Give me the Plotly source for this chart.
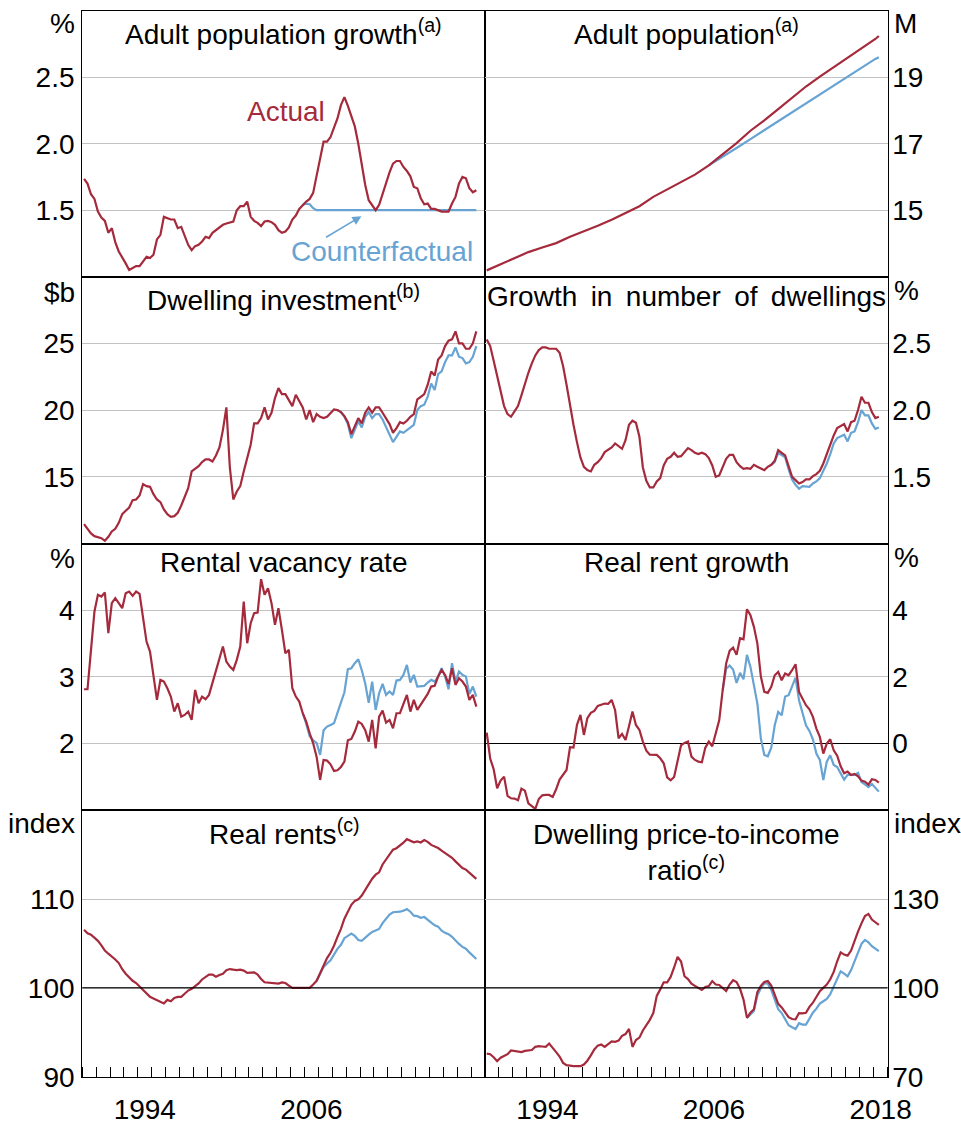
import plotly.graph_objects as go

W, H = 961, 1122
RED = "#a52a3c"
BLUE = "#67a3d3"
FONT = "Arial, 'Liberation Sans', sans-serif"

# quarterly time axis, 1990Q1 .. 2018Q2 (decimal years, mid-quarter)
quarters = [1990.125 + 0.25 * i for i in range(114)]

# ---------------- data ----------------
pop_growth = [
    1.735, 1.70, 1.62, 1.585, 1.49, 1.445, 1.42, 1.33, 1.365, 1.26,
    1.19, 1.15, 1.10, 1.05, 1.065, 1.08, 1.08, 1.115, 1.15, 1.14,
    1.165, 1.28, 1.315, 1.45, 1.44, 1.43, 1.43, 1.365, 1.375, 1.30,
    1.24, 1.20, 1.23, 1.24, 1.265, 1.30, 1.29, 1.33, 1.35, 1.365,
    1.39, 1.40, 1.41, 1.415, 1.50, 1.53, 1.53, 1.565, 1.45, 1.42,
    1.405, 1.38, 1.415, 1.42, 1.41, 1.39, 1.35, 1.33, 1.34, 1.37,
    1.43, 1.46, 1.51, 1.54, 1.565, 1.585, 1.63, 1.76, 1.88, 2.015,
    2.015, 2.05, 2.12, 2.19, 2.29, 2.35, 2.285, 2.215, 2.13, 2.00,
    1.85, 1.69, 1.575, 1.535, 1.50, 1.54, 1.625, 1.71, 1.785, 1.85,
    1.87, 1.87, 1.825, 1.795, 1.755, 1.675, 1.665, 1.59, 1.545, 1.55,
    1.51, 1.51, 1.50, 1.49, 1.49, 1.49, 1.55, 1.60, 1.70, 1.75,
    1.74, 1.665, 1.635, 1.65]
pop_growth_cf_start = 63
pop_growth_cf = [
    1.54, 1.55, 1.545, 1.515, 1.50, 1.50, 1.50, 1.50, 1.50, 1.50,
    1.50, 1.50, 1.50, 1.50, 1.50, 1.50, 1.50, 1.50, 1.50, 1.50,
    1.50, 1.50, 1.50, 1.50, 1.50, 1.50, 1.50, 1.50, 1.50, 1.50,
    1.50, 1.50, 1.50, 1.50, 1.50, 1.50, 1.50, 1.50, 1.50, 1.50,
    1.50, 1.50, 1.50, 1.50, 1.50, 1.50, 1.50, 1.50, 1.50, 1.50,
    1.50]

# adult population, read yearly (every 4th quarter) plus the last quarter
pop_idx = list(range(0, 113, 4)) + [113]
pop = [13.19, 13.38, 13.57, 13.74, 13.88, 14.01, 14.20, 14.36, 14.53, 14.71,
       14.91, 15.12, 15.40, 15.63, 15.84, 16.07, 16.35, 16.68, 17.02, 17.39,
       17.70, 18.04, 18.37, 18.72, 19.02, 19.30, 19.58, 19.86, 20.15, 20.24]
pop_cf_idx = list(range(64, 113, 4)) + [113]
pop_cf = [16.35, 16.60, 16.87, 17.14, 17.41, 17.67, 17.94, 18.21, 18.48,
          18.75, 19.02, 19.28, 19.55, 19.60]

dwell_inv = [
    11.45, 11.1, 10.75, 10.55, 10.5, 10.4, 10.2, 10.5, 10.9, 11.1,
    11.55, 12.2, 12.45, 12.7, 13.25, 13.3, 13.6, 14.45, 14.3, 14.25,
    13.7, 13.3, 13.1, 12.55, 12.2, 12.0, 12.05, 12.3, 12.85, 13.45,
    14.15, 15.4, 15.6, 15.8, 16.1, 16.3, 16.3, 16.15, 16.6, 17.2,
    18.5, 20.2, 15.7, 13.3, 13.9, 14.3, 15.4, 16.4, 17.4, 19.0,
    19.0, 19.4, 20.2, 19.3, 19.8, 20.9, 21.65, 21.2, 21.2, 20.75,
    20.3, 21.15, 20.7, 20.2, 19.3, 20.0, 19.1, 19.7, 19.5, 19.4,
    19.5, 19.8, 20.05, 20.0, 19.85, 19.55, 19.1, 18.2, 18.8, 19.4,
    19.0, 19.8, 20.2, 19.8, 20.2, 20.2, 19.8, 19.35, 18.95, 18.3,
    18.65, 19.1, 19.0, 19.2, 19.5, 19.7, 20.8, 21.0, 21.2, 21.9,
    22.9, 22.6, 23.8, 24.1, 24.8, 25.2, 25.3, 25.9, 25.0, 25.0,
    24.6, 24.6, 25.0, 25.9]
dwell_inv_cf_start = 73
dwell_inv_cf = [
    20.0, 19.85, 19.5, 18.95, 17.9, 18.5, 19.15, 18.7, 19.5, 19.85,
    19.4, 19.7, 19.7, 19.3, 18.75, 18.2, 17.6, 18.0, 18.4, 18.3,
    18.5, 18.65, 18.9, 20.0, 20.3, 20.4, 21.0, 22.0, 21.5, 22.7,
    22.9, 23.6, 24.1, 24.1, 24.7, 24.0, 23.9, 23.5, 23.6, 24.0,
    24.8]

dwell_growth = [
    2.53, 2.48, 2.37, 2.25, 2.14, 2.03, 1.97, 1.95, 1.99, 2.03,
    2.11, 2.20, 2.28, 2.35, 2.41, 2.45, 2.47, 2.47, 2.46, 2.46,
    2.46, 2.43, 2.33, 2.19, 2.03, 1.89, 1.76, 1.645, 1.575, 1.55,
    1.54, 1.59, 1.61, 1.64, 1.685, 1.70, 1.72, 1.75, 1.73, 1.71,
    1.775, 1.89, 1.92, 1.905, 1.80, 1.57, 1.47, 1.42, 1.42, 1.465,
    1.49, 1.585, 1.635, 1.65, 1.68, 1.65, 1.655, 1.685, 1.715, 1.70,
    1.68, 1.67, 1.68, 1.67, 1.64, 1.585, 1.50, 1.51, 1.58, 1.635,
    1.665, 1.665, 1.61, 1.58, 1.56, 1.565, 1.56, 1.59, 1.575, 1.56,
    1.55, 1.575, 1.59, 1.62, 1.70, 1.68, 1.66, 1.58, 1.50, 1.475,
    1.45, 1.46, 1.48, 1.48, 1.505, 1.52, 1.545, 1.60, 1.675, 1.745,
    1.81, 1.865, 1.88, 1.895, 1.84, 1.91, 1.92, 2.00, 2.10, 2.055,
    2.055, 1.985, 1.94, 1.95]
dwell_growth_cf_start = 82
dwell_growth_cf = [
    1.59, 1.61, 1.68, 1.665, 1.645, 1.555, 1.48, 1.44, 1.41, 1.43,
    1.43, 1.425, 1.45, 1.465, 1.49, 1.545, 1.60, 1.67, 1.75, 1.79,
    1.80, 1.815, 1.765, 1.83, 1.84, 1.91, 2.00, 1.96, 1.96, 1.90,
    1.86, 1.87]

vacancy = [
    2.815, 2.815, 3.40, 3.98, 4.23, 4.205, 4.265, 3.655, 4.105, 4.18,
    4.105, 4.03, 4.255, 4.28, 4.215, 4.28, 4.245, 3.905, 3.53, 3.38,
    3.005, 2.655, 2.955, 2.93, 2.83, 2.705, 2.48, 2.605, 2.405, 2.43,
    2.48, 2.355, 2.805, 2.605, 2.705, 2.665, 2.73, 2.905, 3.08, 3.28,
    3.455, 3.23, 3.155, 3.105, 3.255, 3.455, 4.13, 3.505, 3.805, 3.955,
    3.965, 4.465, 4.23, 4.33, 4.105, 3.78, 4.03, 3.705, 3.355, 3.405,
    2.83, 2.705, 2.63, 2.455, 2.33, 2.155, 2.005, 1.80, 1.455, 1.755,
    1.745, 1.69, 1.59, 1.60, 1.65, 1.73, 2.05, 2.07, 2.18, 2.33,
    2.295, 2.20, 2.03, 2.355, 1.93, 2.405, 2.495, 2.315, 2.355, 2.23,
    2.455, 2.455, 2.58, 2.73, 2.48, 2.655, 2.505, 2.58, 2.655, 2.745,
    2.855, 2.865, 3.005, 3.105, 3.03, 2.895, 3.13, 2.88, 2.98, 2.93,
    2.855, 2.655, 2.73, 2.555]
vacancy_cf_start = 63
vacancy_cf = [
    2.455, 2.30, 2.11, 2.05, 2.01, 1.83, 2.20, 2.255, 2.28, 2.305,
    2.46, 2.61, 2.77, 3.115, 3.13, 3.205, 3.265, 3.10, 2.90, 2.61,
    2.93, 2.505, 2.755, 2.895, 2.73, 2.78, 2.73, 2.945, 2.955, 3.03,
    3.18, 2.915, 3.03, 2.855, 2.855, 2.865, 2.915, 2.955, 2.93, 3.005,
    3.13, 3.005, 2.815, 3.205, 2.93, 3.08, 3.03, 3.005, 2.745, 2.855,
    2.705]

rent_growth = [
    0.33, -0.45, -0.77, -1.34, -1.11, -0.99, -1.57, -1.64, -1.65, -1.70,
    -1.35, -1.41, -1.79, -1.89, -1.96, -1.66, -1.55, -1.54, -1.54, -1.60,
    -1.37, -1.08, -0.94, -0.79, -0.11, -0.12, 0.56, 0.86, 0.26, 0.76,
    0.92, 0.98, 1.13, 1.17, 1.20, 1.19, 1.31, 1.00, 0.16, 0.29,
    0.11, 0.52, 0.96, 0.56, 0.41, 0.06, -0.21, -0.33, -0.34, -0.34,
    -0.44, -0.59, -1.01, -1.10, -1.00, -0.50, -0.05, 0.02, 0.06, -0.39,
    -0.49, -0.54, -0.56, -0.12, 0.06, -0.08, 0.35, 0.70, 1.60, 2.40,
    2.78, 2.88, 2.66, 3.16, 3.13, 4.03, 3.85, 3.50, 3.00, 2.01,
    1.55, 1.52, 1.70, 2.05, 2.15, 1.90, 2.10, 2.05, 2.20, 2.38,
    1.55, 1.35, 1.15, 1.03, 0.80, 0.45, 0.20, -0.30, 0.00, 0.13,
    -0.20, -0.36, -0.68, -0.89, -0.84, -0.94, -0.91, -0.98, -1.11, -1.14,
    -1.23, -1.07, -1.09, -1.17]
rent_growth_cf_start = 68
rent_growth_cf = [
    1.60, 2.25, 2.34, 2.22, 1.82, 2.12, 1.93, 2.66, 2.30, 1.80,
    1.20, 0.15, -0.34, -0.38, -0.12, 0.55, 0.95, 0.85, 1.41, 1.45,
    1.70, 1.98, 1.30, 0.90, 0.55, 0.38, 0.13, -0.30, -0.49, -1.09,
    -0.54, -0.35, -0.64, -0.70, -0.88, -1.08, -0.94, -0.94, -0.94, -0.88,
    -1.15, -1.22, -1.30, -1.21, -1.32, -1.44]

real_rents = [
    106.55, 106.15, 106.0, 105.7, 105.3, 104.8, 104.2, 103.85, 103.55, 103.2,
    102.8, 102.1, 101.6, 101.15, 100.8, 100.55, 100.15, 99.7, 99.3, 99.0,
    98.8, 98.6, 98.4, 98.25, 98.65, 98.5, 98.87, 98.98, 98.99, 99.4,
    99.7, 99.9, 100.2, 100.5, 100.95, 101.2, 101.5, 101.5, 101.25, 101.45,
    101.6, 102.0, 102.12, 102.05, 102.0, 102.05, 101.95, 101.69, 101.69, 101.75,
    101.5, 101.0, 100.64, 100.62, 100.56, 100.56, 100.49, 100.62, 100.55, 100.25,
    100.0, 100.0, 100.0, 99.98, 99.97, 100.0, 100.38, 100.8, 101.65, 102.6,
    103.35, 103.95, 104.75, 105.75, 106.65, 107.8, 108.6, 109.35, 109.8, 109.97,
    110.4, 111.05, 111.8, 112.3, 112.75, 113.02, 113.9, 114.45, 115.1, 115.57,
    115.73, 116.0, 116.35, 116.75, 116.58, 116.4, 116.5, 116.38, 116.65, 116.45,
    116.1, 115.9, 115.75, 115.45, 115.2, 114.88, 114.65, 114.25, 113.85, 113.5,
    113.32, 113.0, 112.6, 112.27]
real_rents_cf_start = 67
real_rents_cf = [
    100.8, 101.65, 102.35, 102.75, 103.1, 103.75, 104.4, 104.85, 105.6, 105.85,
    106.12, 105.85, 105.4, 105.3, 105.7, 106.0, 106.3, 106.5, 106.64, 107.3,
    107.75, 108.25, 108.52, 108.52, 108.58, 108.7, 108.87, 108.58, 108.14, 108.08,
    107.9, 107.98, 107.65, 107.3, 107.05, 106.9, 106.45, 106.2, 106.05, 105.75,
    105.3, 104.95, 104.62, 104.42, 104.0, 103.6, 103.26]

price_income = [
    77.8, 77.6, 76.6, 75.24, 76.4, 76.9, 77.6, 78.85, 78.7, 78.5,
    78.3, 78.7, 78.95, 79.0, 80.1, 80.3, 80.2, 80.1, 81.2, 79.9,
    78.3, 76.8, 74.67, 73.9, 73.6, 73.55, 73.55, 73.55, 74.1, 75.4,
    77.2, 79.2, 80.5, 80.86, 80.1, 81.1, 81.9, 81.8, 82.2, 83.8,
    84.4, 86.15, 80.07, 82.4, 83.2, 85.6, 87.3, 89.2, 91.5, 97.3,
    99.5, 101.9, 101.9, 103.7, 106.9, 110.5, 108.9, 103.94, 103.0, 101.4,
    100.7, 99.9, 99.3, 100.3, 100.6, 102.3, 101.13, 101.0, 99.8, 98.95,
    101.13, 102.6, 102.0, 99.7, 96.06, 89.87, 91.6, 92.8, 98.6, 100.7,
    102.0, 102.3, 100.8, 97.4, 94.6, 93.4, 91.8, 90.1, 89.5, 89.4,
    91.5, 91.4, 91.6, 93.58, 95.0, 96.8, 98.87, 100.0, 101.13, 102.9,
    105.4, 109.0, 112.0, 111.26, 110.9, 112.6, 116.2, 119.0, 121.8, 124.3,
    125.0, 123.08, 122.18, 121.3]
price_income_cf_start = 75
price_income_cf = [
    89.87, 91.0, 92.2, 97.5, 99.9, 101.6, 101.5, 99.3, 95.8, 92.8,
    91.5, 89.5, 87.4, 86.7, 86.1, 88.1, 87.6, 87.62, 89.87, 91.6,
    93.0, 94.71, 95.5, 96.28, 97.9, 100.4, 103.3, 105.6, 104.84, 103.9,
    106.0, 108.9, 111.8, 114.9, 116.2, 115.4, 114.1, 113.2, 112.4]

# ---------------- panels ----------------
panels = [
    dict(title="Adult population growth<sup>(a)</sup>", unit="%",
         rng=[1, 3], ticks=[1.5, 2.0, 2.5], labels=["1.5", "2.0", "2.5"],
         x=quarters, y=pop_growth,
         cx=quarters[pop_growth_cf_start:], cy=pop_growth_cf, ty=32),
    dict(title="Adult population<sup>(a)</sup>", unit="M",
         rng=[13, 21], ticks=[15, 17, 19], labels=["15", "17", "19"],
         x=[quarters[i] for i in pop_idx], y=pop,
         cx=[quarters[i] for i in pop_cf_idx], cy=pop_cf, ty=32),
    dict(title="Dwelling investment<sup>(b)</sup>", unit="$b",
         rng=[10, 30], ticks=[15, 20, 25], labels=["15", "20", "25"],
         x=quarters, y=dwell_inv,
         cx=quarters[dwell_inv_cf_start:], cy=dwell_inv_cf, ty=298),
    dict(title="Growth \u2009in \u2009number \u2009of \u2009dwellings", unit="%",
         rng=[1, 3], ticks=[1.5, 2.0, 2.5], labels=["1.5", "2.0", "2.5"],
         x=quarters, y=dwell_growth,
         cx=quarters[dwell_growth_cf_start:], cy=dwell_growth_cf, ty=296),
    dict(title="Rental vacancy rate", unit="%",
         rng=[1, 5], ticks=[2, 3, 4], labels=["2", "3", "4"],
         x=quarters, y=vacancy,
         cx=quarters[vacancy_cf_start:], cy=vacancy_cf, ty=562),
    dict(title="Real rent growth", unit="%",
         rng=[-2, 6], ticks=[0, 2, 4], labels=["0", "2", "4"],
         x=quarters, y=rent_growth,
         cx=quarters[rent_growth_cf_start:], cy=rent_growth_cf, ty=562),
    dict(title="Real rents<sup>(c)</sup>", unit="index",
         rng=[90, 120], ticks=[90, 100, 110], labels=["90", "100", "110"],
         x=quarters, y=real_rents,
         cx=quarters[real_rents_cf_start:], cy=real_rents_cf, ty=832),
    dict(title="Dwelling price-to-income<br>ratio<sup>(c)</sup>", unit="index",
         rng=[70, 160], ticks=[70, 100, 130], labels=["70", "100", "130"],
         x=quarters, y=price_income,
         cx=quarters[price_income_cf_start:], cy=price_income_cf, ty=852),
]
unit_y = [24, 24, 292, 290, 558, 557, 823, 823]
ref_lines = {7: 100, 8: 100}

# panel edges in pixels
col_px = [(82.3, 485.0), (485.0, 887.5)]
row_px = [10.7, 276.7, 543.5, 810.3, 1076.7]


def px_x(px):
    return px / W


def px_y(py):
    return 1 - py / H


fig = go.Figure()
annotations = []
shapes = []
layout = {}

for k, p in enumerate(panels, start=1):
    r, c = (k - 1) // 2, (k - 1) % 2
    xs = "" if k == 1 else str(k)
    fig.add_trace(go.Scatter(x=p["cx"], y=p["cy"], mode="lines",
                             line=dict(color=BLUE, width=2.2),
                             xaxis="x" + xs, yaxis="y" + xs, showlegend=False))
    fig.add_trace(go.Scatter(x=p["x"], y=p["y"], mode="lines",
                             line=dict(color=RED, width=2.2),
                             xaxis="x" + xs, yaxis="y" + xs, showlegend=False))

    bottom = r == 3
    xa = dict(domain=[px_x(col_px[c][0]), px_x(col_px[c][1])], range=[1990, 2019],
              anchor="y" + xs, showline=True, linecolor="black", linewidth=1.3,
              mirror=True, showgrid=False, zeroline=False, ticks="",
              showticklabels=bottom, automargin=False)
    if bottom:
        yrs = [1994, 2006] if c == 0 else [1994, 2006, 2018]
        xa.update(tickmode="array", tickvals=[y + 0.5 for y in yrs],
                  ticktext=[str(y) for y in yrs], ticklabelstandoff=8,
                  tickfont=dict(size=28, color="black", family=FONT),
                  minor=dict(ticks="inside", ticklen=10, tickwidth=1,
                             tickcolor="black", tickmode="linear",
                             tick0=1990, dtick=1, showgrid=False))
    ya = dict(domain=[px_y(row_px[r + 1]), px_y(row_px[r])], range=p["rng"],
              anchor="x" + xs, side="left" if c == 0 else "right",
              showline=True, linecolor="black", linewidth=1.3, mirror=True,
              tickmode="array", tickvals=p["ticks"], ticktext=p["labels"],
              ticks="", ticklabelstandoff=1 if c == 0 else -2, automargin=False,
              showgrid=True, gridcolor="#c3c3c3", gridwidth=1,
              zeroline=(k == 6), zerolinecolor="black", zerolinewidth=1.3,
              tickfont=dict(size=28, color="black", family=FONT))
    layout["xaxis" + xs] = xa
    layout["yaxis" + xs] = ya

    if k in ref_lines:
        shapes.append(dict(type="line", xref="x" + xs + " domain", x0=0, x1=1,
                           yref="y" + xs, y0=ref_lines[k], y1=ref_lines[k],
                           line=dict(color="black", width=1.3), layer="above"))

    cx = (col_px[c][0] + col_px[c][1]) / 2
    annotations.append(dict(text=p["title"], xref="paper", yref="paper",
                            x=px_x(cx), y=px_y(p["ty"]), xanchor="center",
                            yanchor="middle", showarrow=False,
                            font=dict(size=28, color="black", family=FONT)))
    annotations.append(dict(text=p["unit"], xref="paper", yref="paper",
                            x=px_x(77 if c == 0 else 892), y=px_y(unit_y[k - 1]),
                            xanchor="right" if c == 0 else "left",
                            yanchor="middle", showarrow=False,
                            font=dict(size=28, color="black", family=FONT)))

# series labels in the first panel
annotations.append(dict(text="Actual", x=2004.65, y=2.245, xref="x", yref="y",
                        showarrow=False, font=dict(size=28, color=RED, family=FONT)))
annotations.append(dict(text="Counterfactual", x=2011.6, y=1.19, xref="x", yref="y",
                        showarrow=False, font=dict(size=28, color=BLUE, family=FONT)))
annotations.append(dict(text="", x=2010.1, y=1.455, xref="x", yref="y",
                        ax=2007.45, ay=1.29, axref="x", ayref="y",
                        showarrow=True, arrowhead=2, arrowsize=1.2,
                        arrowwidth=1.5, arrowcolor=BLUE))

fig.update_layout(**layout)
fig.update_layout(width=W, height=H, autosize=False,
                  margin=dict(l=0, r=0, t=0, b=0, pad=0, autoexpand=False),
                  paper_bgcolor="white", plot_bgcolor="white",
                  font=dict(family=FONT, size=28, color="black"),
                  annotations=annotations, shapes=shapes, showlegend=False)

# drop the page's default body margin so the figure sits at the window's corner
fig.write_html("out.html", config={"displayModeBar": False},
               post_script="document.body.style.margin='0';"
                           "document.body.style.overflow='hidden';")
